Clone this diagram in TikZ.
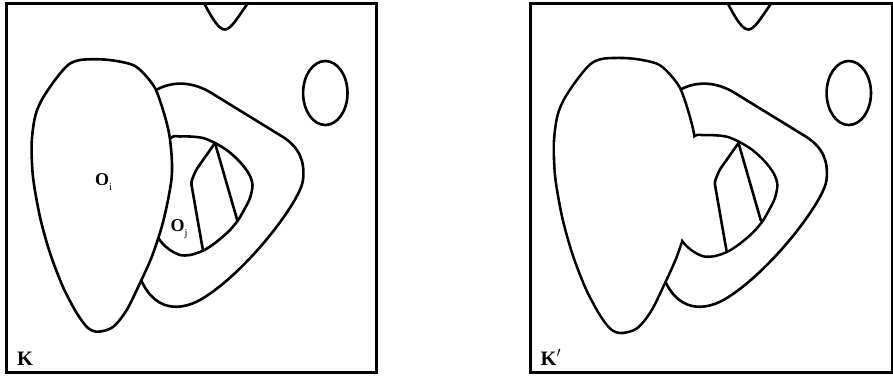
\documentclass[tikz,border=0pt]{standalone}
\usepackage{fontspec}
\newfontfamily\lblfont{Liberation Serif}
\tikzset{
  frm/.style={draw=black, line width=3pt},
  shp/.style={draw=black, line width=2.6pt, line join=round, line cap=round},
  fat/.style={draw=black, line width=5.2pt, line join=round},
  lbl/.style={font=\lblfont\fontsize{18}{20}\selectfont, inner sep=0pt, anchor=base west},
  panelname/.style={font=\lblfont\fontsize{20.5}{22}\selectfont\bfseries, inner sep=0pt, anchor=base west},
}
\newcommand{\obj}[1]{\textbf{O}\raisebox{-4.5pt}{\fontsize{10.5}{10.5}\selectfont #1}}
% outlines shared by both panels
\newcommand{\oipath}{plot[smooth cycle] coordinates {(80,60) (100,59.3) (116.7,61) (133,65) (143,72.7)
  (155,88) (163,110) (169,133) (171.7,157) (171.7,177) (168,200) (161.7,227) (151.7,257) (140,283)
  (126.7,310) (113,327) (98.3,331.7) (88,328) (76.7,313) (63,287) (50,253) (40,217) (33,177)
  (31.7,143) (35,117) (41.7,100) (55,80) (68,65)}}
\newcommand{\ringpath}{(145,98) .. controls (160,84) and (185,76) .. (213,94) -- (283,137)
  .. controls (300,148) and (305,162) .. (303,180) .. controls (301,200) and (250,268) .. (205,297)
  .. controls (182,312) and (152,314) .. (138,272) -- (130,200) -- (130,130) -- cycle}
\newcommand{\innerpath}{plot[smooth cycle] coordinates {(170.7,138) (180,136.5) (190,136.5) (203,138)
  (215,143) (228,151) (240,162) (249,174) (252.5,185) (250,198) (244,210) (237.5,221) (228,232)
  (215,243) (203,250.7) (190,255) (180,255) (170,250) (163,244) (158,237) (152,220) (155,160)}}
\newcommand{\bumppath}{(204,3) .. controls (213,20) and (219,29.5) .. (225,29.5)
  .. controls (231,29.5) and (238,17) .. (248,3)}
\newcommand{\cutpath}{(215,143) -- (196,170) -- (191,182) -- (203,250.7)}

\begin{document}
\begin{tikzpicture}[x=1pt, y=-1pt]
  \useasboundingbox (0,0) rectangle (893,376);

  % K
  \draw[shp] \ringpath;
  \draw[shp] \innerpath;
  \draw[shp, rounded corners=3pt] \cutpath;
  \draw[shp] (215,143) -- (237.5,221);
  \filldraw[shp, fill=white] \oipath;
  \draw[shp] \bumppath;
  \draw[shp] (325.3,93) ellipse [x radius=22.2, y radius=32];
  \node[lbl] (oi) at (95,185.5) {\obj{i}};
  \node[lbl] (oj) at (170.5,231.5) {\obj{j}};
  \node[panelname] (kl) at (17,365) {K};
  \draw[frm] (6.7,3.3) rectangle (376.7,372.7);

  % K'
  \begin{scope}[shift={(523.5,0)}]
    \draw[shp] \ringpath;
    \draw[fat] \oipath;
    \draw[fat] \innerpath;
    \fill[white] \oipath;
    \fill[white] \innerpath;
    \draw[shp, rounded corners=3pt] \cutpath;
    \draw[shp] (215,143) -- (237.5,221);
    \draw[shp] \bumppath;
    \draw[shp] (325.3,93) ellipse [x radius=22.2, y radius=32];
    \node[panelname] (kr) at (17,365) {K$'$};
  \end{scope}
  \draw[frm] (530.7,3.3) rectangle (892,372.7);
\end{tikzpicture}
\end{document}
